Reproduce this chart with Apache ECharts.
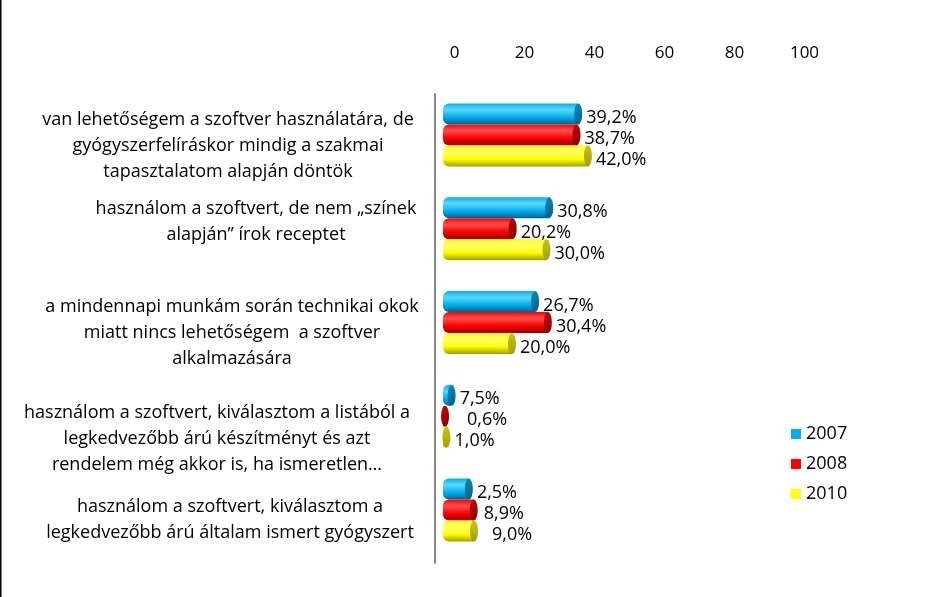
<!DOCTYPE html>
<html>
<head>
<meta charset="utf-8">
<script src="https://cdn.jsdelivr.net/npm/echarts@6/dist/echarts.min.js"></script>
<style>
  html, body { margin: 0; padding: 0; background: #fff; }
  #chart { width: 946px; height: 597px; }
</style>
</head>
<body>
<div id="chart"></div>
<script>
// kategóriák (fentről lefelé)
var categories = [
  'van lehetőségem a szoftver használatára, de\ngyógyszerfelíráskor mindig a szakmai\ntapasztalatom alapján döntök',
  'használom a szoftvert, de nem „színek\nalapján” írok receptet',
  'a mindennapi munkám során technikai okok\nmiatt nincs lehetőségem  a szoftver\nalkalmazására',
  'használom a szoftvert, kiválasztom a listából a\nlegkedvezőbb árú készítményt és azt\nrendelem még akkor is, ha ismeretlen…',
  'használom a szoftvert, kiválasztom a\nlegkedvezőbb árú általam ismert gyógyszert'
];
var years = ['2007', '2008', '2010'];

// oszlophosszak, ahogy a képen látszanak
var values2007 = [39.2, 30.8, 26.7, 2.5, 7.5];
var values2008 = [38.7, 20.2, 30.4, 0.6, 8.9];
var values2010 = [42.0, 30.0, 20.0, 1.0, 9.0];

// feliratok (a 2007-es utolsó kettő fel van cserélve az eredetin)
var labels2007 = ['39,2%', '30,8%', '26,7%', '7,5%', '2,5%'];
var labels2008 = ['38,7%', '20,2%', '30,4%', '0,6%', '8,9%'];
var labels2010 = ['42,0%', '30,0%', '20,0%', '1,0%', '9,0%'];

var xTicks = [0, 20, 40, 60, 80, 100];

// kategória feliratok eltolása [jobbra, le]
var labelShift = [[-28, 5], [0, -13], [-24, 5], [-39, 17], [-26, 4]];
// felirat távolsága az oszlop végétől
var labelGap = [
  [8, 8, 8, 8, 8],
  [8, 8, 8, 22, 10],
  [8, 8, 8, 8, 18]
];

var chart = echarts.init(document.getElementById('chart'));

var colors = [
  { base: '#00b0f0', light: '#5fd6ff', dark: '#00648c', cap: '#0088bb' },
  { base: '#ff0000', light: '#ff5050', dark: '#900000', cap: '#c00000' },
  { base: '#ffff00', light: '#ffff70', dark: '#a0a000', cap: '#c8c800' }
];
var allValues = [values2007, values2008, values2010];
var allLabels = [labels2007, labels2008, labels2010];

var FONT = 'Open Sans';

// rich stílusok a kategória feliratok eltolásához
var rich = {};
labelShift.forEach(function (s, i) {
  rich['l' + i] = { padding: [0, Math.max(-s[0], 0) * 2, 0, Math.max(s[0], 0) * 2], lineHeight: 26, fontSize: 18, fontFamily: FONT, color: '#000' };
  rich['t' + i] = { lineHeight: Math.max(s[1] * 2, 1), fontSize: 1 };
  rich['b' + i] = { lineHeight: Math.max(-s[1] * 2, 1), fontSize: 1 };
});

var series = [];
years.forEach(function (y, i) {
  var c = colors[i];
  var labs = allLabels[i];
  series.push({
    name: y,
    type: 'bar',
    xAxisIndex: 1,
    yAxisIndex: 1,
    barWidth: 21,
    barGap: '0%',
    data: allValues[i].map(function (v, j) {
      return { value: v, label: { distance: labelGap[i][j] } };
    }),
    itemStyle: {
      borderRadius: [6, 0, 0, 6],
      color: new echarts.graphic.LinearGradient(0, 0, 0, 1, [
        { offset: 0, color: c.base },
        { offset: 0.3, color: c.light },
        { offset: 0.65, color: c.base },
        { offset: 1, color: c.dark }
      ])
    },
    label: {
      show: true,
      position: 'right',
      distance: 8,
      offset: [0, 4],
      color: '#000',
      fontFamily: FONT,
      fontSize: 18,
      formatter: function (p) { return labs[p.dataIndex]; }
    },
    z: 2
  });
  // henger vége
  series.push({
    name: y + ' cap',
    type: 'pictorialBar',
    xAxisIndex: 1,
    yAxisIndex: 1,
    barWidth: 21,
    barGap: '0%',
    symbol: 'circle',
    symbolSize: [8, 21],
    symbolPosition: 'end',
    symbolOffset: ['50%', 0],
    data: allValues[i],
    itemStyle: {
      color: new echarts.graphic.LinearGradient(0, 0, 0, 1, [
        { offset: 0, color: c.cap },
        { offset: 1, color: c.dark }
      ])
    },
    silent: true,
    z: 3
  });
});

var option = {
  animation: false,
  backgroundColor: '#fff',
  textStyle: { fontFamily: FONT },
  grid: [
    { left: 435, top: 94, width: 350, height: 469, outerBoundsMode: 'none' },
    { left: 443, top: 88, width: 345, height: 469, outerBoundsMode: 'none' }
  ],
  legend: {
    data: years.map(function (y, i) { return { name: y, itemStyle: { color: colors[i].base } }; }),
    orient: 'vertical',
    left: 786,
    top: 420,
    icon: 'rect',
    itemWidth: 10,
    itemHeight: 10,
    itemGap: 12,
    textStyle: { fontFamily: FONT, fontSize: 18, color: '#000' }
  },
  xAxis: [
    {
      gridIndex: 0,
      type: 'value',
      position: 'top',
      min: xTicks[0],
      max: xTicks[xTicks.length - 1],
      interval: 20,
      axisLine: { show: false },
      axisTick: { show: false },
      splitLine: { show: false },
      axisLabel: {
        margin: 32,
        color: '#000',
        fontFamily: FONT,
        fontSize: 17,
        padding: [0, 0, 0, 39]
      }
    },
    {
      gridIndex: 1,
      type: 'value',
      min: 0,
      max: 100,
      show: false
    }
  ],
  yAxis: [
    {
      gridIndex: 0,
      type: 'category',
      inverse: true,
      data: categories,
      axisLine: { lineStyle: { color: '#878787', width: 2 } },
      axisTick: { length: 5, lineStyle: { color: '#878787', width: 2 } },
      axisLabel: {
        margin: 179,
        align: 'center',
        color: '#000',
        fontFamily: FONT,
        fontSize: 18,
        formatter: function (value, index) {
          var lines = value.split('\n').map(function (l) { return '{l' + index + '|' + l + '}'; });
          return '{t' + index + '| }\n' + lines.join('\n') + '\n{b' + index + '| }';
        },
        rich: rich
      }
    },
    {
      gridIndex: 1,
      type: 'category',
      inverse: true,
      data: categories,
      show: false
    }
  ],
  graphic: [
    {
      type: 'line',
      shape: { x1: 0.75, y1: 0, x2: 0.75, y2: 597 },
      style: { stroke: '#000', lineWidth: 1.5 }
    }
  ],
  series: series
};

chart.setOption(option);
</script>
</body>
</html>
